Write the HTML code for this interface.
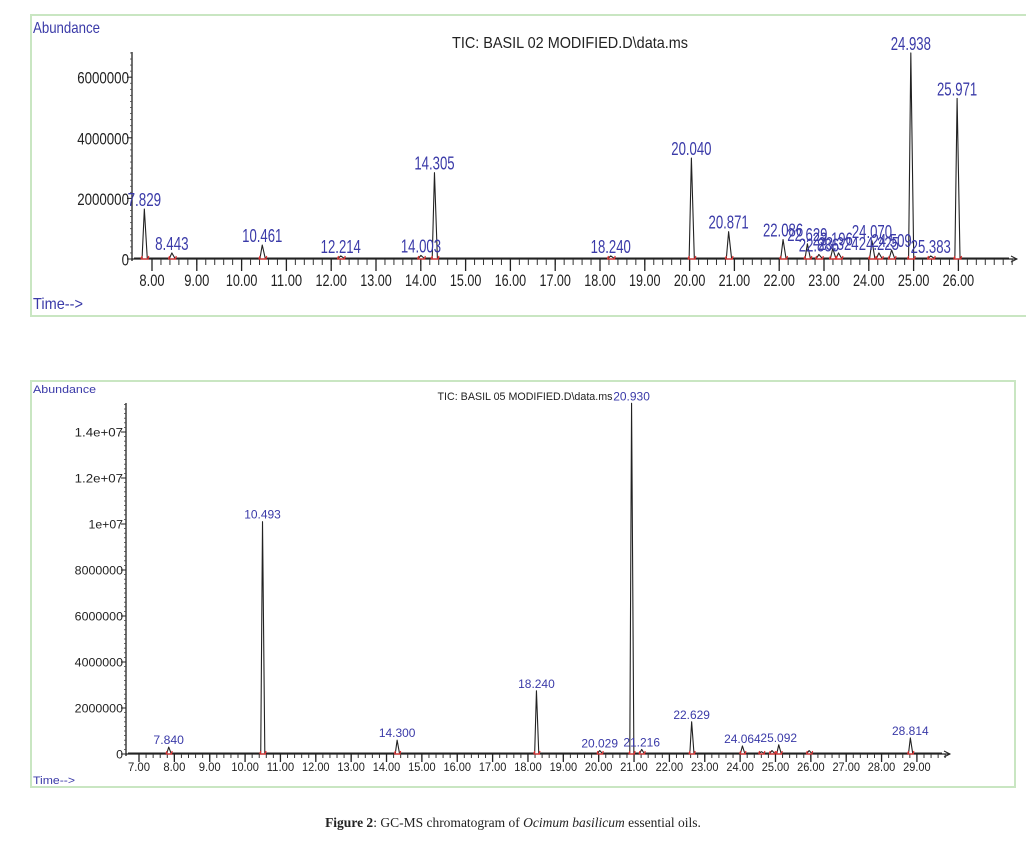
<!DOCTYPE html>
<html><head><meta charset="utf-8"><style>
html,body{margin:0;padding:0;background:#fff;}
body{width:1026px;height:842px;overflow:hidden;position:relative;}
svg{position:absolute;left:0;top:0;}
.cap{position:absolute;left:0;width:1026px;top:815px;text-align:center;font-family:"Liberation Serif",serif;font-size:13.5px;color:#222;}
</style></head><body>
<svg id="svg" width="1026" height="842"></svg>
<div class="cap"><b>Figure 2</b>: GC-MS chromatogram of <i>Ocimum basilicum</i> essential oils.</div>
<script>
// Chart 1 data
const topTimes = [7.829, 8.443, 10.461, 12.214, 14.003, 14.305, 18.240, 20.040, 20.871, 22.086, 22.629, 22.886, 23.196, 23.324, 24.070, 24.225, 24.509, 24.938, 25.383, 25.971];
const topHeights = [1650000, 200000, 460000, 100000, 120000, 2850000, 100000, 3330000, 900000, 640000, 500000, 150000, 350000, 200000, 600000, 200000, 300000, 6800000, 100000, 5300000];
const topLabels = ["7.829","8.443","10.461","12.214","14.003","14.305","18.240","20.040","20.871","22.086","22.629","22.886","23.196","23.324","24.070","24.225","24.509","24.938","25.383","25.971"];
const topYTicks = [0, 2000000, 4000000, 6000000];
const topYTickLabels = ["0","2000000","4000000","6000000"];
const topXTicks = [8,9,10,11,12,13,14,15,16,17,18,19,20,21,22,23,24,25,26];
// Chart 2 data
const botTimes = [7.840, 10.493, 14.300, 18.240, 20.029, 20.930, 21.216, 22.629, 24.064, 24.600, 24.900, 25.092, 25.950, 28.814];
const botHeights = [300000, 10100000, 600000, 2750000, 150000, 15250000, 200000, 1400000, 350000, 100000, 150000, 400000, 150000, 700000];
const botLabels = ["7.840","10.493","14.300","18.240","20.029","20.930","21.216","22.629","24.064","","","25.092","","28.814"];
const botYTicks = [0, 2000000, 4000000, 6000000, 8000000, 10000000, 12000000, 14000000];
const botYTickLabels = ["0","2000000","4000000","6000000","8000000","1e+07","1.2e+07","1.4e+07"];
const botXTicks = [7,8,9,10,11,12,13,14,15,16,17,18,19,20,21,22,23,24,25,26,27,28,29];

const NS="http://www.w3.org/2000/svg";
const svg=document.getElementById('svg');
function mk(tag,attrs,parent,text){const e=document.createElementNS(NS,tag);for(const k in attrs)e.setAttribute(k,attrs[k]);if(text!==undefined)e.textContent=text;(parent||svg).appendChild(e);return e;}
function fit(el,str,cw){el.setAttribute('textLength',(str.length*cw).toFixed(1));el.setAttribute('lengthAdjust','spacingAndGlyphs');}

function chart(o){
  const g=mk('g',{});
  
  
  const fr=mk('rect',{x:o.fx,y:o.fy,width:o.fw,height:o.fh,fill:'none',stroke:'#c9e6c2','stroke-width':2},g);
  
  
  const xs=t=>o.x0+(t-o.t0)*o.pxPerMin;
  const ys=v=>o.base-v*o.pxPerUnit;
  const ff='"Liberation Sans Narrow","Liberation Sans",sans-serif';
  let t=mk('text',{x:o.fx+2,y:o.abY,fill:'#3a3aa8','font-family':ff,'font-size':o.fs,'textLength':o.abW,'lengthAdjust':'spacingAndGlyphs'},g,'Abundance');
  
  
  t=mk('text',{x:o.fx+2,y:o.timeY,fill:'#3a3aa8','font-family':ff,'font-size':o.fs,'textLength':o.tmW,'lengthAdjust':'spacingAndGlyphs'},g,'Time-->');
  
  
  t=mk('text',{x:o.titleX,y:o.titleY,fill:'#222','font-family':ff,'font-size':o.fs,'text-anchor':'middle','textLength':o.titleW,'lengthAdjust':'spacingAndGlyphs'},g,o.title);
  
  
  const ya=mk('line',{x1:o.axX,y1:o.base+2,x2:o.axX,y2:o.axTop,stroke:'#222','stroke-width':1.3},g);
  
  
  const step=o.yTicks[1]-o.yTicks[0];
  for(let v=0; ys(v)>o.axTop; v+=step/10){
    mk('line',{x1:o.axX-2,y1:ys(v),x2:o.axX,y2:ys(v),stroke:'#444','stroke-width':0.8},g);
  }
  o.yTicks.forEach((v,i)=>{
    mk('line',{x1:o.axX-5,y1:ys(v),x2:o.axX,y2:ys(v),stroke:'#222','stroke-width':1},g);
    const l=mk('text',{x:o.axX-3,y:ys(v)+o.yfs*0.38,fill:'#222','font-family':ff,'font-size':o.yfs,'text-anchor':'end'},g,o.yTickLabels[i]);
    fit(l,o.yTickLabels[i],o.ycw);
    
    
  });
  const xa=mk('line',{x1:o.axX,y1:o.base,x2:o.axEnd,y2:o.base,stroke:'#222','stroke-width':1.3},g);
  
  
  mk('path',{d:`M${o.axEnd-6},${o.base-3} L${o.axEnd},${o.base} L${o.axEnd-6},${o.base+3}`,fill:'none',stroke:'#222'},g);
  for(let m=Math.ceil(o.t0*5)/5; xs(m)<o.axEnd-4; m+=0.2){
    mk('line',{x1:xs(m),y1:o.base,x2:xs(m),y2:o.base+o.minTick,stroke:'#333','stroke-width':1},g);
  }
  o.xTicks.forEach(v=>{
    mk('line',{x1:xs(v),y1:o.base,x2:xs(v),y2:o.base+o.majTick,stroke:'#222','stroke-width':1.3},g);
    const s=v.toFixed(2);
    const l=mk('text',{x:xs(v),y:o.base+o.xLabDy,fill:'#222','font-family':ff,'font-size':o.xfs,'text-anchor':'middle'},g,s);
    fit(l,s,o.xcw);
    
    
  });
  let d=`M${o.axX+2},${o.base-1}`;
  o.times.forEach((tm,i)=>{
    d+=` L${xs(tm-o.hw)},${o.base-1} L${xs(tm)},${ys(o.heights[i])} L${xs(tm+o.hw*1.3)},${o.base-1}`;
  });
  d+=` L${o.axEnd-8},${o.base-1}`;
  const tr=mk('path',{d:d,fill:'none',stroke:'#222','stroke-width':1.1,'stroke-linejoin':'round'},g);
  
  
  o.times.forEach((tm,i)=>{
    const mkr=mk('path',{d:`M${xs(tm-o.hw*1.5)},${o.base} L${xs(tm-o.hw)},${o.base-3} M${xs(tm+o.hw*1.5)},${o.base} L${xs(tm+o.hw*2)},${o.base-3} M${xs(tm-o.hw*1.5)},${o.base} L${xs(tm+o.hw*2)},${o.base}`,stroke:'#e03030','stroke-width':1.2,fill:'none'},g);
    
    
    if(o.labels[i]){
      const l=mk('text',{x:xs(tm),y:ys(o.heights[i])-3,fill:'#3a3aa8','font-family':ff,'font-size':o.pfs,'text-anchor':'middle'},g,o.labels[i]);
      fit(l,o.labels[i],o.pcw);
      
      
    }
  });
}
chart({name:'tic-chart-basil-02',fx:31,fy:15,fw:1010,fh:301,abY:33,timeY:309,abW:67,tmW:50,fs:16,
  title:'TIC: BASIL 02 MODIFIED.D\\data.ms',titleX:570,titleY:48,titleW:236,
  axX:132,axTop:52,base:259,axEnd:1017,x0:152,t0:8,pxPerMin:44.8,pxPerUnit:30.3/1000000,
  yTicks:topYTicks,yTickLabels:topYTickLabels,xTicks:topXTicks,yfs:17,xfs:17,xLabDy:27,minTick:6,majTick:12,
  ycw:7.4,xcw:6.3,pcw:6.7,
  times:topTimes,heights:topHeights,labels:topLabels,hw:0.05,pfs:18});
chart({name:'tic-chart-basil-05',fx:31,fy:381,fw:984,fh:406,abY:393,timeY:784,abW:63,tmW:42,fs:11,
  title:'TIC: BASIL 05 MODIFIED.D\\data.ms',titleX:525,titleY:400,titleW:175,
  axX:126,axTop:403,base:754,axEnd:950,x0:139,t0:7,pxPerMin:35.36,pxPerUnit:23/1000000,
  yTicks:botYTicks,yTickLabels:botYTickLabels,xTicks:botXTicks,yfs:11.5,xfs:11.5,xLabDy:17,minTick:4,majTick:8,
  ycw:6.9,xcw:5.5,pcw:6.1,
  times:botTimes,heights:botHeights,labels:botLabels,hw:0.05,pfs:12});
</script>
</body></html>
